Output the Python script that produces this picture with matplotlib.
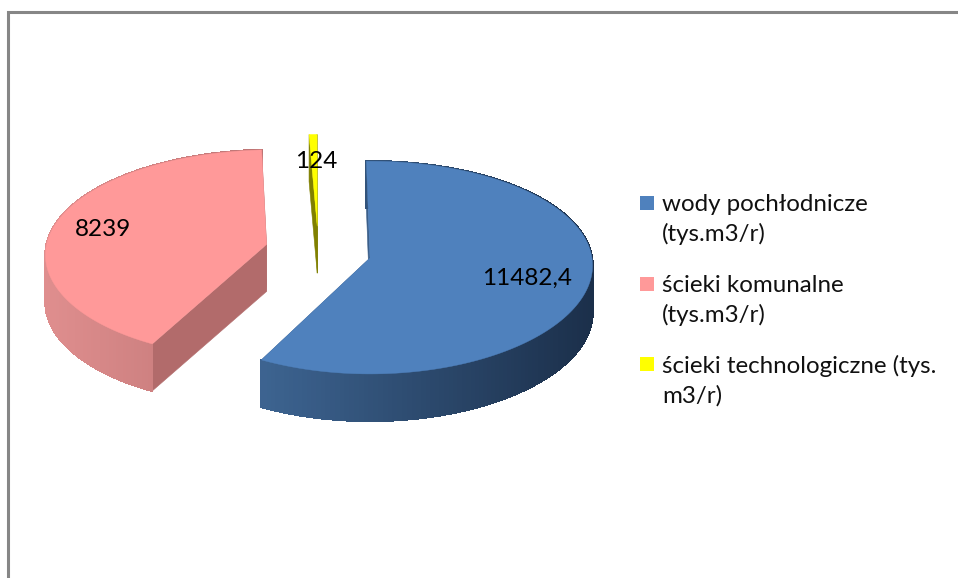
#!/usr/bin/env python3
"""Exploded 3D-look pie chart of water and sewage volumes."""

import matplotlib

matplotlib.use("Agg")
import matplotlib.colors as mcolors
import matplotlib.pyplot as plt
import numpy as np
from matplotlib.collections import PolyCollection
from matplotlib.patches import Polygon, Rectangle

plt.rcParams["font.family"] = ["Lato", "DejaVu Sans"]

# data
values = [11482.4, 8239, 124]
value_labels = ["11482,4", "8239", "124"]
legend_labels = [
    "wody pochłodnicze\n(tys.m3/r)",
    "ścieki komunalne\n(tys.m3/r)",
    "ścieki technologiczne (tys.\nm3/r)",
]

# styles
top_colors = ["#4f81bd", "#ff9999", "#ffff00"]
wall_colors = ["#3b5f8a", "#b26b6b", "#808000"]
side_left = ["#3d6491", "#df8e8e", "#808000"]
side_right = ["#1b2f4a", "#bd7474", "#808000"]
offsets = [(0.0, 0.0), (-0.47, -0.13), (-0.243, -0.31)]
label_pos = [(527, 278), (103, 229), (316, 162)]
legend_y = [203, 284, 364]

CX, CY = 370.0, 258.0
RX, RY = 222.0, 105.5
KX, KY = 0.07, 0.09
DEPTH = 47.0
ROT = -1.0


def project(u, v):
    x = CX + RX * u / (1 - KX * v)
    y = CY + RY * v / (1 - KY * v)
    return x, y


def rim(theta, off):
    t = np.radians(theta)
    return project(off[0] + np.sin(t), off[1] - np.cos(t))


fig = plt.figure(figsize=(9.58, 5.78), dpi=100)
ax = fig.add_axes([0, 0, 1, 1])
ax.set_xlim(0, 958)
ax.set_ylim(578, 0)
ax.axis("off")

# frame of the original picture
ax.plot([8.5, 8.5, 958], [578, 11.5, 11.5], color="#868686", lw=2.2,
        solid_joinstyle="miter", solid_capstyle="butt")

total = sum(values)
sweeps = [360.0 * v / total for v in values]
starts = ROT + np.concatenate(([0.0], np.cumsum(sweeps)[:-1]))

for i in range(len(values)):
    off = offsets[i]
    start, sweep = starts[i], sweeps[i]
    thetas = np.linspace(start, start + sweep, 181)
    xs, ys = rim(thetas, off)
    ax_, ay_ = project(off[0], off[1])

    # radial walls
    for k in (0, -1):
        wall = [(ax_, ay_), (xs[k], ys[k]), (xs[k], ys[k] + DEPTH), (ax_, ay_ + DEPTH)]
        ax.add_patch(Polygon(wall, closed=True, fc=wall_colors[i], ec=wall_colors[i],
                             lw=0.4, zorder=2 + i))

    # outer side, shaded from left to right
    c0 = np.array(mcolors.to_rgb(side_left[i]))
    c1 = np.array(mcolors.to_rgb(side_right[i]))
    span = max(xs.max() - xs[ys > ay_].min(), 1) if (ys > ay_).any() else 1
    quads, cols = [], []
    for j in range(len(xs) - 1):
        if ys[j] < ay_ and ys[j + 1] < ay_ and i == 2:
            continue
        quads.append([(xs[j], ys[j]), (xs[j + 1], ys[j + 1]),
                      (xs[j + 1], ys[j + 1] + DEPTH), (xs[j], ys[j] + DEPTH)])
        f = np.clip((xs[j] - xs.min()) / span, 0, 1)
        cols.append(c0 + (c1 - c0) * f)
    ax.add_collection(PolyCollection(quads, facecolors=cols, edgecolors=cols,
                                     linewidths=1.0, antialiaseds=False, zorder=2 + i))

    # top face
    face = np.column_stack((np.r_[ax_, xs], np.r_[ay_, ys]))
    ax.add_patch(Polygon(face, closed=True, fc=top_colors[i], ec=top_colors[i],
                         lw=0.3, zorder=3 + i))

for text, (x, y) in zip(value_labels, label_pos):
    ax.text(x, y, text, fontsize=17.5, color="black", ha="center", va="center", zorder=10)

for i, label in enumerate(legend_labels):
    y = legend_y[i]
    ax.add_patch(Rectangle((640, y - 7), 14, 14, fc=top_colors[i], ec="none"))
    ax.text(662, y - 9, label, fontsize=17.4, color="#111111", ha="left", va="top",
            linespacing=1.46)

fig.savefig("out.png", dpi=100)
